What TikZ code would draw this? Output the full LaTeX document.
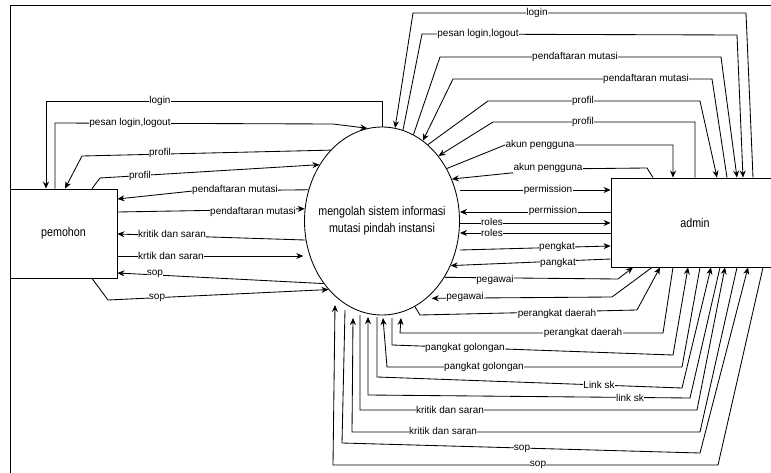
\documentclass[tikz,border=0pt]{standalone}
\usepackage{fontspec}
\usepackage{graphicx}
\setmainfont{Liberation Sans}
\usetikzlibrary{arrows.meta,shapes.geometric}

\newcommand{\tallbox}[1]{\scalebox{1}[1.18]{#1}}

\begin{document}
\begin{tikzpicture}[x=1pt,y=-1pt,
  flow/.style={line width=0.85pt, -{Stealth[length=7pt,width=6pt]}},
  plain/.style={line width=0.85pt},
  lbl/.style={fill=white, inner sep=0.4pt, font=\fontsize{10}{12}\selectfont},
  entity/.style={draw, line width=0.85pt, fill=white, inner sep=0pt, font=\fontsize{10.7}{13}\selectfont}
]
\useasboundingbox (0,0) rectangle (771,473);
\clip (0,0) rectangle (771,473);

% outer frame
\draw[plain] (10,480) -- (10,5) -- (780,5);

% external entities and the process
\node[entity, minimum width=107pt, minimum height=89pt] (pem) at (63.5,233.5) {\tallbox{pemohon}};
\node[entity, minimum width=168pt, minimum height=89pt] (adm) at (695,222.5) {\tallbox{admin}};
\node[ellipse, draw, line width=0.85pt, minimum width=155pt, minimum height=188pt, inner sep=0pt] (proc) at (382,221) {};
\node[align=center, font=\fontsize{10.7}{17}\selectfont] (proctext) at (proc.center)
  {\tallbox{mengolah sistem informasi}\\\tallbox{mutasi pindah instansi}};

% taps under the process
\coordinate (b1) at (335,305);
\coordinate (b2) at (345,310);
\coordinate (b3) at (353,318);
\coordinate (b4) at (360,315);
\coordinate (b5) at (368,317);
\coordinate (b6) at (377,317);
\coordinate (b7) at (383,318);
\coordinate (b8) at (392,318);
\coordinate (b9) at (401,318);

% ---- pemohon <-> process
\draw[flow] (proc.north) |- (46,101) -- (46,0 |- pem.north);
\draw[flow] (55,0 |- pem.north) -- (55,123) -- (333,124) -- (proc.99);
\draw[flow] (proc.126) -- (82,156) -- (65,0 |- pem.north);
\draw[flow] (92,0 |- pem.north) -- (100,178) -- (proc.138);
\draw[flow] (proc.157) -- (193,191) -- (pem.east |- 0,199);
\draw[flow] (pem.east |- 0,212) -- (proc.171);
\draw[flow] (proc.194) -- (pem.east |- 0,234);
\draw[flow, shorten >=6pt] (pem.east |- 0,256) -- (proc.205 |- 0,256);
\draw[flow] (proc.227) -- (pem.east |- 0,273);
\draw[flow] (92,0 |- pem.south) -- (108,300) -- (proc.232);

% ---- admin <-> process, over the top
\draw[flow] (753,0 |- adm.north) -- (746,13) -- (413,13) -- (proc.82);
\draw[flow] (proc.77) -- (422,34) -- (737,35) -- (743,0 |- adm.north);
\draw[flow] (proc.70) -- (440,57) -- (721,57) -- (737,0 |- adm.north);
\draw[flow] (727,0 |- adm.north) -- (712,79) -- (453,79) -- (proc.63);
\draw[flow] (proc.59) -- (488,101) -- (700,101) -- (717,0 |- adm.north);
\draw[flow] (695,0 |- adm.north) -- (695,122) -- (493,122) -- (proc.49);
\draw[flow] (proc.39) -- (505,145) -- (673,145) -- (673,0 |- adm.north);
\draw[flow] (653,0 |- adm.north) -- (647,168) -- (550,169) -- (proc.31);

% ---- admin <-> process, straight across
\draw[flow] (proc.east |- 0,190) -- (adm.west |- 0,190);
\draw[flow] (adm.west |- 0,212) -- (proc.east |- 0,212);
\draw[flow] (proc.east |- 0,223) -- (adm.west |- 0,223);
\draw[flow] (adm.west |- 0,233) -- (proc.east |- 0,233);
\draw[flow] (proc.east |- 0,250) -- (adm.west |- 0,246);
\draw[flow] (adm.west |- 0,259) -- (proc.-33);

% ---- admin <-> process, underneath
\draw[flow] (proc.-42) -- (618,279) -- (633,0 |- adm.south);
\draw[flow, shorten >=5pt] (652,0 |- adm.south) -- (612,297) -- (proc.-60);
\draw[flow] (proc.-69) -- (420,315) -- (637,310) -- (660,0 |- adm.south);
\draw[flow] (673,0 |- adm.south) -- (663,333) -- (400,333) -- (b9);
\draw[flow] (b8) -- (392,345) -- (673,355) -- (688,0 |- adm.south);
\draw[flow] (700,0 |- adm.south) -- (682,367) -- (387,367) -- (b7);
\draw[flow] (b6) -- (377,377) -- (682,388) -- (711,0 |- adm.south);
\draw[flow] (720,0 |- adm.south) -- (690,398) -- (368,395) -- (b5);
\draw[flow] (b4) -- (360,410) -- (697,410) -- (725,0 |- adm.south);
\draw[flow] (737,0 |- adm.south) -- (700,432) -- (352,432) -- (b3);
\draw[flow] (b2) -- (342,443) -- (700,453) -- (748,0 |- adm.south);
\draw[flow] (763,0 |- adm.south) -- (718,465) -- (333,465) -- (b1);

% ---- flow labels
\node[lbl] (l1) at (160,101) {login};
\node[lbl] (l2) at (130,123) {pesan login,logout};
\node[lbl] (l3) at (160,153) {profil};
\node[lbl] (l4) at (140,176) {profil};
\node[lbl] (l5) at (235,190) {pendaftaran mutasi};
\node[lbl] (l6) at (253,212) {pendaftaran mutasi};
\node[lbl] (l7) at (172,234) {kritik dan saran};
\node[lbl] (l8) at (171,256) {krtik dan saran};
\node[lbl] (l9) at (155,274) {sop};
\node[lbl] (l10) at (157,298) {sop};

\node[lbl] (r1) at (537,13) {login};
\node[lbl] (r2) at (478,34) {pesan login,logout};
\node[lbl] (r3) at (575,57) {pendaftaran mutasi};
\node[lbl] (r4) at (646,79) {pendaftaran mutasi};
\node[lbl] (r5) at (583,101) {profil};
\node[lbl] (r6) at (583,122) {profil};
\node[lbl] (r7) at (540,145) {akun pengguna};
\node[lbl] (r8) at (548,168) {akun pengguna};
\node[lbl] (r9) at (548,190) {permission};
\node[lbl] (r10) at (553,211) {permission};
\node[lbl] (r11) at (492,222) {roles};
\node[lbl] (r12) at (492,233) {roles};
\node[lbl] (r13) at (557,247) {pengkat};
\node[lbl] (r14) at (558,263) {pangkat};
\node[lbl] (r15) at (495,280) {pegawai};
\node[lbl] (r16) at (465,297) {pegawai};
\node[lbl] (r17) at (557,314) {perangkat daerah};
\node[lbl] (r18) at (583,333) {perangkat daerah};
\node[lbl] (r19) at (465,348) {pangkat golongan};
\node[lbl] (r20) at (484,367) {pangkat golongan};
\node[lbl] (r21) at (599,385) {Link sk};
\node[lbl] (r22) at (630,398) {link sk};
\node[lbl] (r23) at (450,410) {kritik dan saran};
\node[lbl] (r24) at (443,431) {kritik dan saran};
\node[lbl] (r25) at (522,449) {sop};
\node[lbl] (r26) at (538,465) {sop};
\end{tikzpicture}
\end{document}
